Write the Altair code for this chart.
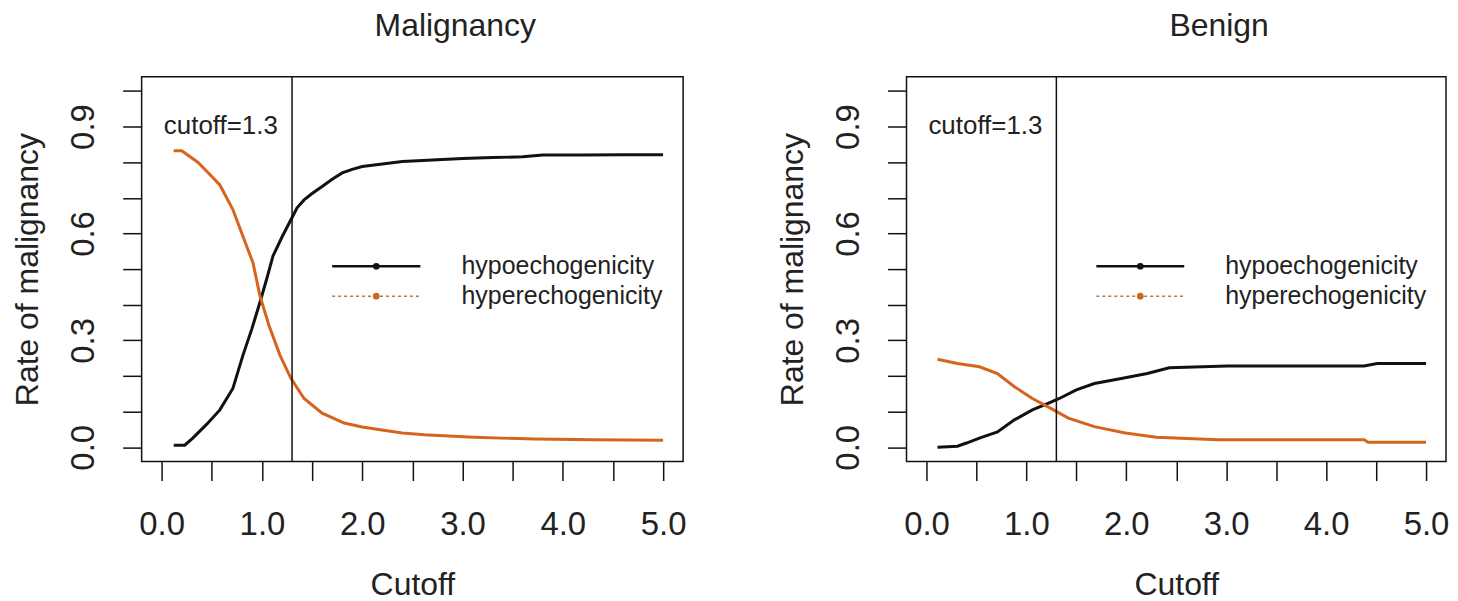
import altair as alt
import pandas as pd

FONT = "Liberation Sans"

panel_titles = ["Malignancy", "Benign"]
series_names = ["hypoechogenicity", "hyperechogenicity"]
series_colors = ["#111111", "#D6641E"]

# Malignancy panel
mal_hypo_x = [0.12, 0.23, 0.31, 0.45, 0.58, 0.71, 0.81, 0.90, 0.98, 1.05, 1.11, 1.20, 1.29, 1.35, 1.42,
              1.50, 1.60, 1.70, 1.80, 1.90, 2.00, 2.20, 2.40, 2.70, 3.00, 3.30, 3.60, 3.80, 4.20, 4.60, 5.00]
mal_hypo_y = [0.006, 0.006, 0.026, 0.065, 0.105, 0.165, 0.258, 0.333, 0.407, 0.475, 0.537, 0.590, 0.639, 0.672, 0.694,
              0.712, 0.732, 0.752, 0.770, 0.780, 0.788, 0.795, 0.802, 0.806, 0.810, 0.813, 0.815, 0.820, 0.820, 0.821, 0.821]
mal_hyper_x = [0.12, 0.20, 0.36, 0.50, 0.58, 0.71, 0.81, 0.91, 0.98, 1.07, 1.18, 1.29, 1.42, 1.60, 1.82,
               2.00, 2.18, 2.40, 2.62, 3.11, 3.73, 4.30, 5.00]
mal_hyper_y = [0.832, 0.832, 0.800, 0.760, 0.736, 0.667, 0.592, 0.518, 0.425, 0.342, 0.258, 0.193, 0.137, 0.096, 0.068,
               0.057, 0.049, 0.040, 0.035, 0.028, 0.023, 0.021, 0.020]

# Benign panel
ben_hypo_x = [0.11, 0.31, 0.40, 0.53, 0.71, 0.88, 1.06, 1.24, 1.33, 1.50, 1.68, 1.95, 2.21, 2.43, 3.01, 4.38, 4.51, 5.00]
ben_hypo_y = [0.000, 0.003, 0.012, 0.026, 0.043, 0.077, 0.105, 0.126, 0.137, 0.161, 0.179, 0.193, 0.207, 0.223, 0.228,
              0.228, 0.235, 0.235]
ben_hyper_x = [0.11, 0.31, 0.53, 0.71, 0.88, 1.06, 1.24, 1.42, 1.68, 1.99, 2.30, 2.92, 4.38, 4.42, 5.00]
ben_hyper_y = [0.247, 0.235, 0.226, 0.207, 0.170, 0.137, 0.110, 0.082, 0.058, 0.040, 0.028, 0.021, 0.021, 0.014, 0.014]

x_tick_values = [0.0, 0.5, 1.0, 1.5, 2.0, 2.5, 3.0, 3.5, 4.0, 4.5, 5.0]
y_tick_values = [0.0, 0.1, 0.2, 0.3, 0.4, 0.5, 0.6, 0.7, 0.8, 0.9, 1.0]

cutoff_value = [1.3]
cutoff_label = ["cutoff=1.3"]
cutoff_label_pos = [0.59, 0.878]

legend_line_x = [1.70, 2.58]
legend_dot_x = [2.14]
legend_text_x = [2.99]
legend_rows_y = [0.508, 0.424]
legend_line_colors = ["#111111", "#B07A4E"]
legend_dot_colors = ["#111111", "#D0651E"]


def panel(title, hx, hy, px, py, width):
    curves = pd.DataFrame({
        "x": hx + px,
        "y": hy + py,
        "series": [series_names[0]] * len(hx) + [series_names[1]] * len(px),
    })
    X = alt.X("x:Q", title="Cutoff",
              scale=alt.Scale(domain=[-0.2, 5.2], nice=False, zero=False),
              axis=alt.Axis(values=x_tick_values,
                            labelExpr="datum.value % 1 == 0 ? format(datum.value, '.1f') : ''",
                            labelOverlap=False, labelFlush=False, labelPadding=28,
                            titleY=133, titleBaseline="alphabetic"))
    Y = alt.Y("y:Q", title="Rate of malignancy",
              scale=alt.Scale(domain=[-0.04, 1.04], nice=False, zero=False),
              axis=alt.Axis(values=y_tick_values,
                            labelExpr="(abs(datum.value*10 % 3) < 0.01 && datum.value < 0.95) ? format(datum.value, '.1f') : ''",
                            labelOverlap=False, labelFlush=False, labelAngle=270,
                            labelAlign="center", labelBaseline="alphabetic", labelPadding=29,
                            titleAngle=270, titleX=-104, titleY=193, titleAlign="center",
                            titleBaseline="alphabetic"))

    lines = alt.Chart(curves).mark_line(strokeWidth=3).encode(
        x=X, y=Y,
        color=alt.Color("series:N", scale=alt.Scale(domain=series_names, range=series_colors), legend=None),
        order=alt.Order("x:Q"),
    )

    rule = alt.Chart(pd.DataFrame({"x": cutoff_value})).mark_rule(color="#111111", strokeWidth=1.5).encode(x=X)

    ctext = alt.Chart(pd.DataFrame({"x": [cutoff_label_pos[0]], "y": [cutoff_label_pos[1]], "t": cutoff_label})).mark_text(
        font=FONT, fontSize=26, align="center", baseline="alphabetic", color="#222222"
    ).encode(x=X, y=Y, text="t:N")

    # legend drawn inside the plot
    leg_lines_df = pd.DataFrame({
        "x": legend_line_x * 2,
        "y": [legend_rows_y[0]] * 2 + [legend_rows_y[1]] * 2,
        "series": [series_names[0]] * 2 + [series_names[1]] * 2,
    })
    leg1 = alt.Chart(leg_lines_df[leg_lines_df.series == series_names[0]]).mark_line(
        color=legend_line_colors[0], strokeWidth=2.5).encode(x=X, y=Y)
    leg2 = alt.Chart(leg_lines_df[leg_lines_df.series == series_names[1]]).mark_line(
        color=legend_line_colors[1], strokeWidth=1.6, strokeDash=[3, 3]).encode(x=X, y=Y)
    leg_dots_df = pd.DataFrame({
        "x": legend_dot_x * 2, "y": legend_rows_y, "series": series_names,
    })
    dots = alt.Chart(leg_dots_df).mark_point(filled=True, size=45, opacity=1).encode(
        x=X, y=Y,
        color=alt.Color("series:N", scale=alt.Scale(domain=series_names, range=legend_dot_colors), legend=None),
    )
    leg_text_df = pd.DataFrame({"x": legend_text_x * 2, "y": legend_rows_y, "t": series_names})
    ltext = alt.Chart(leg_text_df).mark_text(
        font=FONT, fontSize=25, align="left", baseline="middle", color="#222222"
    ).encode(x=X, y=Y, text="t:N")

    return alt.layer(lines, rule, ctext, leg1, leg2, dots, ltext).resolve_scale(color="independent").properties(
        width=width, height=386,
        title=alt.TitleParams(title, font=FONT, fontSize=32, fontWeight="normal", color="#222222",
                              anchor="middle", baseline="alphabetic", offset=8, dx=43),
    )


left = panel(panel_titles[0], mal_hypo_x, mal_hypo_y, mal_hyper_x, mal_hyper_y, 543)
right = panel(panel_titles[1], ben_hypo_x, ben_hypo_y, ben_hyper_x, ben_hyper_y, 541)

chart = alt.hconcat(left, right, spacing=224, bounds="flush").properties(
    padding={"left": 3, "top": 0, "right": 0, "bottom": 0}
).configure_view(
    stroke="#111111", strokeWidth=1.5
).configure_axis(
    domain=False, grid=False, ticks=True, tickSize=19, tickWidth=1.5, tickColor="#111111",
    labelFont=FONT, labelFontSize=33, labelColor="#222222",
    titleFont=FONT, titleFontSize=32, titleFontWeight="normal", titleColor="#222222",
)

chart.save("out.html", embed_options={"renderer": "svg", "actions": False})
